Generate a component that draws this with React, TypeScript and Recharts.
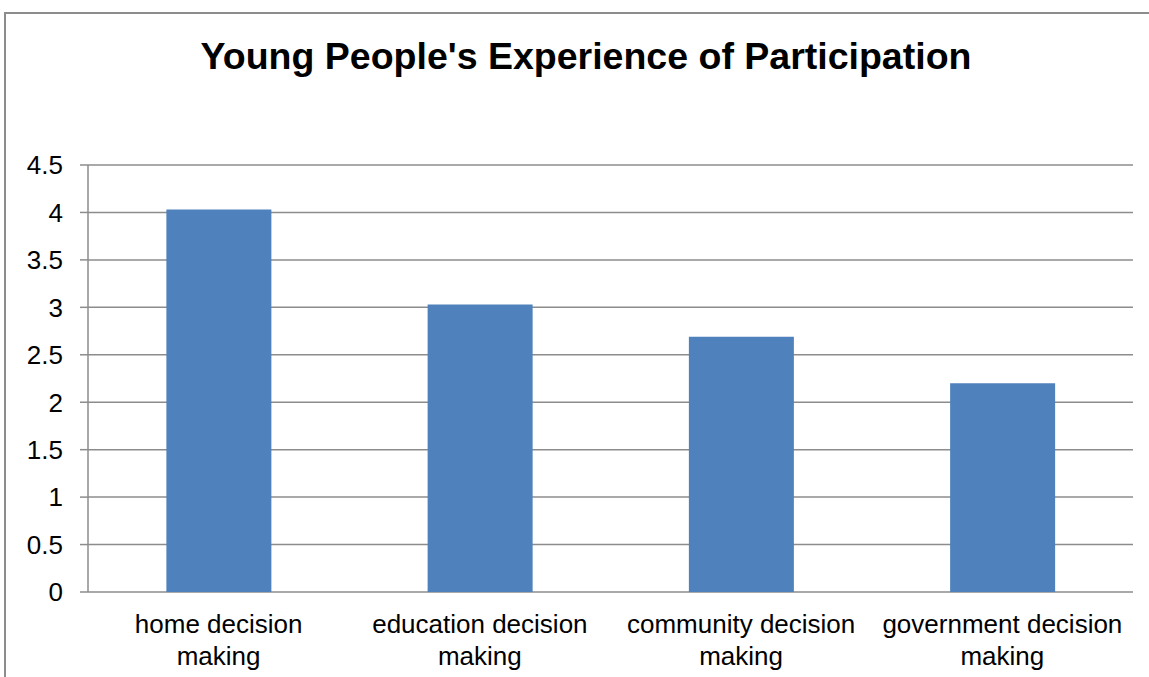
import { BarChart, Bar, XAxis, YAxis, CartesianGrid } from "recharts";

const categories = [
  "home decision making",
  "education decision making",
  "community decision making",
  "government decision making",
];
const scores = [4.03, 3.03, 2.69, 2.2];
const yTicks = [0, 0.5, 1, 1.5, 2, 2.5, 3, 3.5, 4, 4.5];
const edgeTicks = [0, 1, 2, 3, 4];

const data = categories.map((name, i) => ({ name, slot: i, score: scores[i] }));

const FONT = '"Liberation Sans", Arial, sans-serif';
const GRID = "#8c8c8c";

function YTick({ x, y, payload }: any) {
  return (
    <text x={x} y={y} dy="0.36em" textAnchor="end" fontFamily={FONT} fontSize={26} fill="#000">
      {String(payload.value)}
    </text>
  );
}

function XTick({ x, y, payload }: any) {
  const words = String(payload.value).split(" ");
  const last = words.pop();
  return (
    <text x={x} y={y} textAnchor="middle" fontFamily={FONT} fontSize={26} fill="#000">
      <tspan x={x} dy={41}>{words.join(" ")}</tspan>
      <tspan x={x} dy={32}>{last}</tspan>
    </text>
  );
}

export default function App() {
  return (
    <div style={{ position: "absolute", left: 0, top: 0, width: 1149, height: 677, overflow: "hidden", background: "#fff" }}>
      <div
        style={{
          position: "absolute",
          left: 4,
          top: 12,
          width: 1200,
          height: 800,
          border: `2px solid ${GRID}`,
        }}
      />
      <svg width={1149} height={100} style={{ position: "absolute", left: 0, top: 0 }}>
        <text x={586} y={69} textAnchor="middle" fontFamily={FONT} fontWeight="bold" fontSize={37.5} fill="#000">
          Young People's Experience of Participation
        </text>
      </svg>
      <div style={{ position: "absolute", left: 0, top: 0 }}>
        <BarChart width={1149} height={677} data={data} margin={{ top: 165, right: 16, bottom: 0, left: 0 }} barCategoryGap="30%">
          <CartesianGrid vertical={false} stroke={GRID} strokeWidth={1.5} />
          <XAxis
            xAxisId="edge"
            type="number"
            dataKey="slot"
            domain={[0, 4]}
            ticks={edgeTicks}
            allowDataOverflow
            tick={false}
            tickSize={8}
            height={0}
            stroke={GRID}
            strokeWidth={1.5}
          />
          <XAxis
            dataKey="name"
            interval={0}
            height={85}
            axisLine={false}
            tickLine={false}
            tickSize={0}
            tickMargin={0}
            tick={<XTick />}
          />
          <YAxis
            domain={[0, 4.5]}
            ticks={yTicks}
            interval={0}
            width={88}
            tickSize={8}
            tickMargin={17}
            stroke={GRID}
            strokeWidth={1.5}
            tick={<YTick />}
          />
          <Bar dataKey="score" fill="#4F81BD" isAnimationActive={false} />
        </BarChart>
      </div>
    </div>
  );
}
